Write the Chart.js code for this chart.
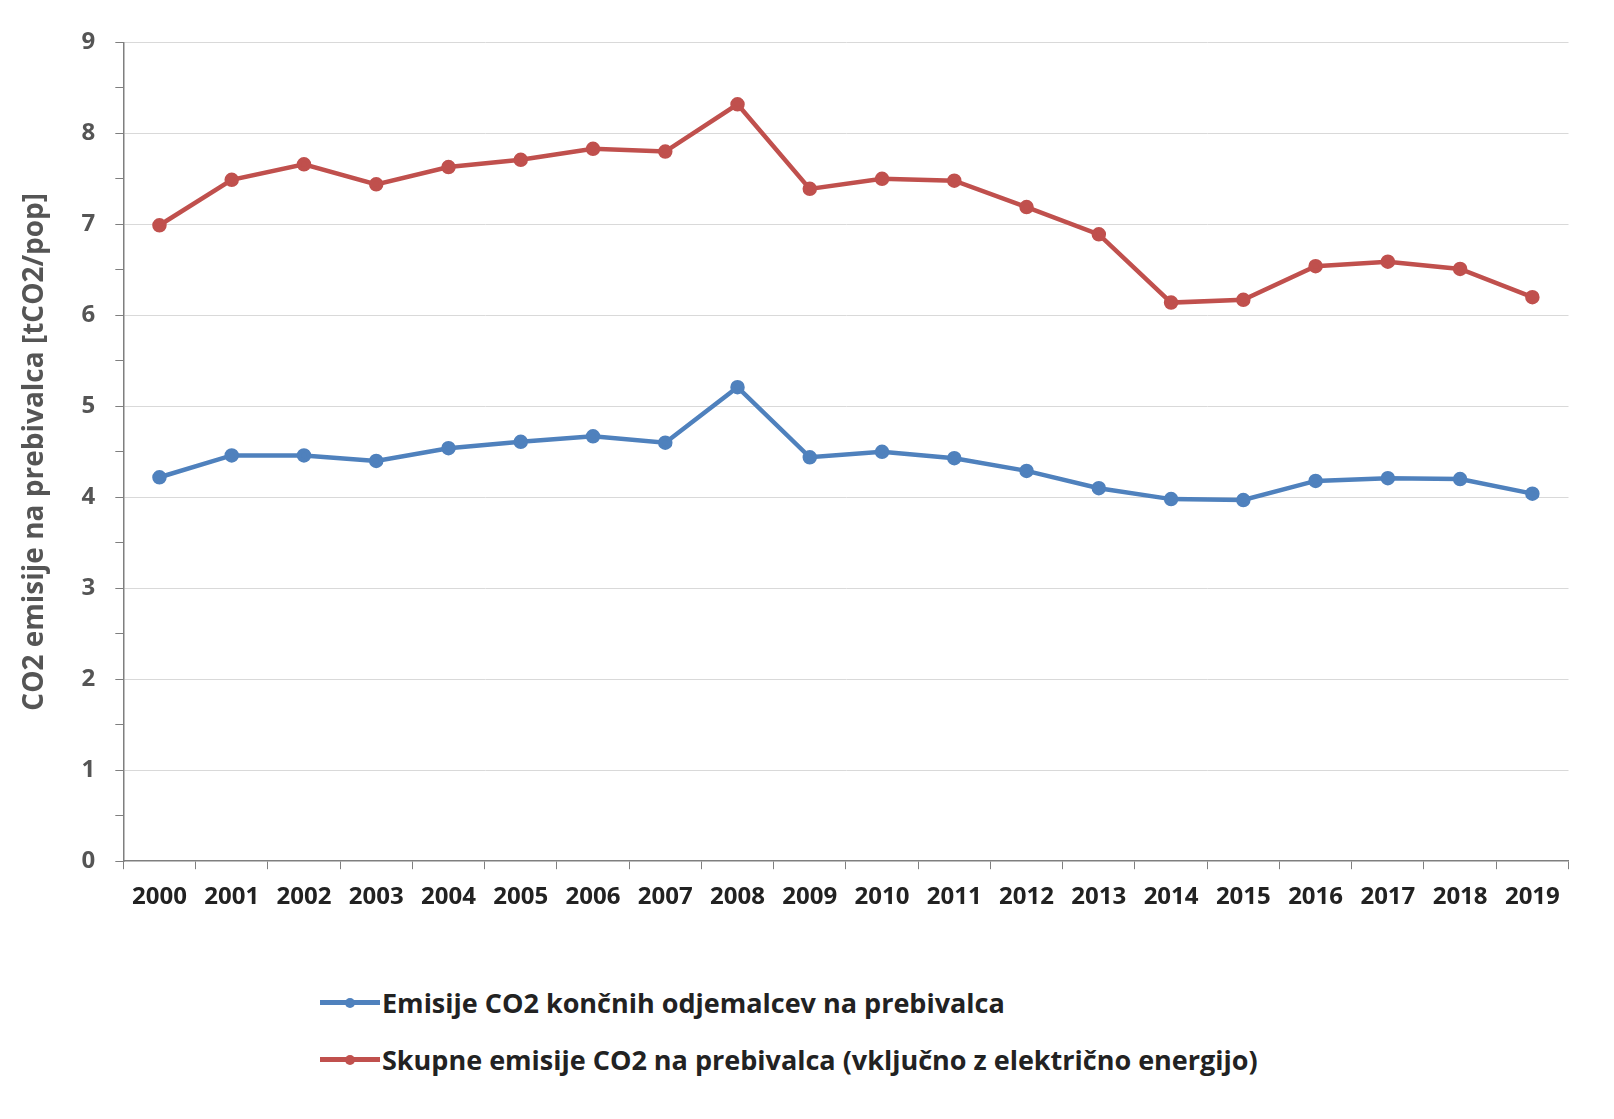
<!DOCTYPE html>
<html>
<head>
<meta charset="utf-8">
<script src="https://cdn.jsdelivr.net/npm/chart.js@4"></script>
<style>
   body { margin: 0; background: #fff; font-family: "Open Sans", sans-serif; }
   #wrap { position: relative; width: 1570px; height: 918px; margin: 8px 0 0 8px; }
   #legend { margin-left: 320px; margin-top: 48px; font-weight: bold; font-size: 27px; color: #222; }
   .item { display: flex; align-items: center; height: 57px; }
   .mark { position: relative; width: 60px; height: 5px; margin-right: 2px; }
   .mark span { position: absolute; left: 25px; top: -2.5px; width: 10px; height: 10px; border-radius: 50%; }
</style>
</head>
<body>
<div id="wrap"><canvas id="chart"></canvas></div>
<div id="legend"></div>
<script>
const years = ['2000','2001','2002','2003','2004','2005','2006','2007','2008','2009','2010','2011','2012','2013','2014','2015','2016','2017','2018','2019'];
const finalConsumers = [4.22,4.46,4.46,4.40,4.54,4.61,4.67,4.60,5.21,4.44,4.50,4.43,4.29,4.10,3.98,3.97,4.18,4.21,4.20,4.04];
const totalEmissions = [6.99,7.49,7.66,7.44,7.63,7.71,7.83,7.80,8.32,7.39,7.50,7.48,7.19,6.89,6.14,6.17,6.54,6.59,6.51,6.20];
const seriesNames = ['Emisije CO2 končnih odjemalcev na prebivalca', 'Skupne emisije CO2 na prebivalca (vključno z električno energijo)'];
const colors = ['#4f81bd', '#c0504d'];

const ds = [finalConsumers, totalEmissions].map((d, i) => ({
   label: seriesNames[i],
   data: d,
   borderColor: colors[i],
   backgroundColor: colors[i],
   borderWidth: 4.5,
   pointRadius: 5,
   tension: 0
}));

new Chart(document.getElementById('chart'), {
   type: 'line',
   data: { labels: years, datasets: ds },
   options: {
      responsive: true,
      maintainAspectRatio: false,
      animation: false,
      layout: { padding: { top: 24, right: 0, bottom: 0, left: 6 } },
      plugins: { legend: { display: false }, tooltip: { enabled: false } },
      scales: {
         x: {
            offset: true,
            grid: { display: true, drawOnChartArea: false, offset: true, tickLength: 8, color: '#7f7f7f' },
            border: { color: '#7f7f7f', width: 1.5 },
            ticks: { color: '#222', font: { family: 'Open Sans', size: 24, weight: 'bold' }, maxRotation: 0, padding: 14 }
         },
         y: {
            min: 0, max: 9,
            ticks: {
               stepSize: 0.5,
               color: '#555',
               font: { family: 'Open Sans', size: 24, weight: 'bold' },
               padding: 20,
               callback: v => Number.isInteger(v) ? v : ''
            },
            grid: {
               color: c => Number.isInteger(c.tick.value) && c.tick.value > 0 ? '#d9d9d9' : 'transparent',
               tickColor: '#7f7f7f',
               tickLength: 8
            },
            border: { color: '#7f7f7f', width: 1.5 },
            title: { display: true, text: 'CO2 emisije na prebivalca [tCO2/pop]', color: '#555', font: { family: 'Open Sans', size: 28, weight: 'bold' }, padding: { bottom: 10 } }
         }
      }
   }
});

const legend = document.getElementById('legend');
seriesNames.forEach((name, i) => {
   const item = document.createElement('div');
   item.className = 'item';
   item.innerHTML = `<div class="mark" style="background:${colors[i]}"><span style="background:${colors[i]}"></span></div>${name}`;
   legend.appendChild(item);
});
</script>
</body>
</html>
